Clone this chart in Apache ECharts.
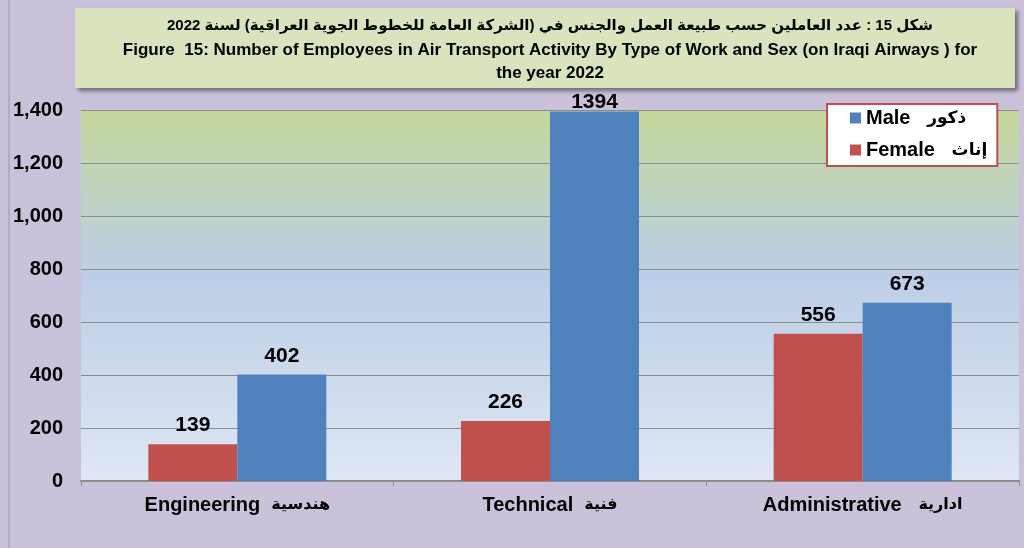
<!DOCTYPE html>
<html><head><meta charset="utf-8">
<script src="https://cdn.jsdelivr.net/npm/echarts@6/dist/echarts.min.js"></script>
<style>html,body{margin:0;padding:0;background:#CCC1DA;}#c{width:1024px;height:548px;}</style>
</head><body><div id="c"></div>
<script>
const categories = ['Engineering  هندسية', 'Technical  فنية', 'Administrative   ادارية'];
const female = [139, 226, 556];
const male = [402, 1394, 673];
const yTicks = {min: 0, max: 1400, interval: 200};
const titleLines = [
  'شكل 15 : عدد العاملين حسب طبيعة العمل والجنس في (الشركة العامة للخطوط الجوية العراقية) لسنة 2022',
  'Figure  15: Number of Employees in Air Transport Activity By Type of Work and Sex (on Iraqi Airways ) for',
  'the year 2022'
];
const seriesNames = ['Female   إناث', 'Male   ذكور'];

const FONT = 'Arial, "Liberation Sans", "DejaVu Sans", sans-serif';
function splitRich(s) {
  const m = s.match(/^(\S+)(\s+)(.*)$/);
  return '{en|' + m[1] + '}' + m[2] + '{ar|' + m[3] + '}';
}
const labelStyle = {show: true, position: 'top', distance: 8, fontFamily: FONT, fontSize: 21, fontWeight: 'bold', color: '#000'};
const chart = echarts.init(document.getElementById('c'), null, {renderer: 'canvas'});
chart.setOption({
  backgroundColor: '#CCC1DA',
  animation: false,
  graphic: [
    {type: 'line', shape: {x1: 9, y1: 0, x2: 9, y2: 548}, style: {stroke: '#9A94A4', lineWidth: 1}, z: 0},
    {type: 'rect', shape: {x: 75, y: 8, width: 940, height: 80},
     style: {fill: '#D7E4BD', shadowBlur: 4, shadowOffsetX: 3, shadowOffsetY: 3, shadowColor: 'rgba(0,0,0,0.45)'}, z: 0}
  ],
  title: {
    text: '{ar|' + titleLines[0] + '}\n{en|' + titleLines[1] + '}\n{en|' + titleLines[2] + '}',
    left: 545, top: 7, textAlign: 'center',
    textStyle: {fontFamily: FONT, fontWeight: 'bold', color: '#000',
      rich: {
        ar: {fontFamily: FONT, fontSize: 15, fontWeight: 'bold', color: '#000', lineHeight: 27},
        en: {fontFamily: FONT, fontSize: 17, fontWeight: 'bold', color: '#000', lineHeight: 23}
      }}
  },
  legend: {
    data: [seriesNames[1], seriesNames[0]],
    orient: 'vertical', left: 827, top: 104,
    backgroundColor: '#fff', borderColor: '#C0504D', borderWidth: 2,
    padding: [4, 10, 6, 23], itemGap: 12, itemWidth: 11, itemHeight: 11,
    icon: 'rect',
    formatter: name => splitRich(name),
    textStyle: {fontFamily: FONT, fontSize: 20, fontWeight: 'bold', color: '#000',
      rich: {
        en: {fontFamily: FONT, fontSize: 20, fontWeight: 'bold', color: '#000'},
        ar: {fontFamily: FONT, fontSize: 17, fontWeight: 'bold', color: '#000'}
      }}
  },
  grid: {
    left: 81, right: 5, top: 110, bottom: 67, show: true,
    borderWidth: 0,
    backgroundColor: new echarts.graphic.LinearGradient(0, 0, 0, 1, [
      {offset: 0, color: '#C4D79B'},
      {offset: 0.45, color: '#BCCEE6'},
      {offset: 1, color: '#DFE7F4'}
    ])
  },
  xAxis: {
    type: 'category', data: categories,
    axisLine: {lineStyle: {color: '#8C8C8C', width: 2}},
    axisTick: {show: true, length: 5, lineStyle: {color: '#8C8C8C'}},
    axisLabel: {interval: 0, fontFamily: FONT, fontSize: 20, fontWeight: 'bold', color: '#000', margin: 14,
      formatter: v => splitRich(v),
      rich: {
        en: {fontFamily: FONT, fontSize: 20, fontWeight: 'bold', color: '#000'},
        ar: {fontFamily: FONT, fontSize: 16, fontWeight: 'bold', color: '#000'}
      }}
  },
  yAxis: {
    type: 'value', min: yTicks.min, max: yTicks.max, interval: yTicks.interval,
    axisLine: {show: false}, axisTick: {show: false},
    splitLine: {lineStyle: {color: '#8C8C8C', width: 1}},
    axisLabel: {fontFamily: FONT, fontSize: 20, fontWeight: 'bold', color: '#000', margin: 18,
      formatter: v => v.toLocaleString('en-US')}
  },
  series: [
    {name: seriesNames[0], type: 'bar', data: female, barWidth: 89, barGap: '0%',
     itemStyle: {color: '#C0504D'}, label: labelStyle},
    {name: seriesNames[1], type: 'bar', barWidth: 89, barGap: '0%',
     data: male.map(v => v > yTicks.max - 50 ? {value: v, label: {distance: -1}} : v),
     itemStyle: {color: '#4F81BD'}, label: labelStyle}
  ]
});
</script></body></html>
